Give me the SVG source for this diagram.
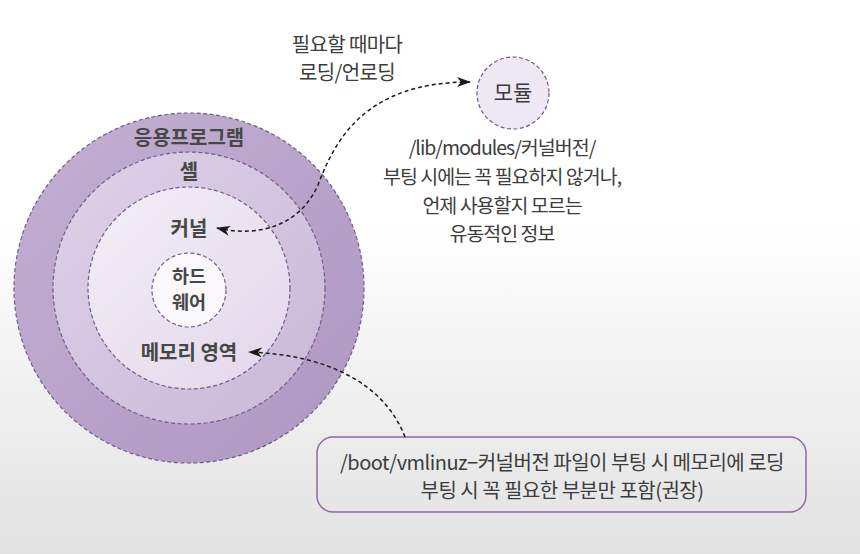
<svg xmlns="http://www.w3.org/2000/svg" width="860" height="554" viewBox="0 0 860 554">
<defs>
<linearGradient id="bg" x1="0" y1="0" x2="0" y2="1">
<stop offset="0" stop-color="#ffffff"/>
<stop offset="0.4" stop-color="#ffffff"/>
<stop offset="1" stop-color="#e2e2e2"/>
</linearGradient>
<linearGradient id="g1" x1="0" y1="0" x2="1" y2="1">
<stop offset="0" stop-color="#c4b0d3"/>
<stop offset="1" stop-color="#ae96c1"/>
</linearGradient>
<linearGradient id="g2" x1="0" y1="0" x2="1" y2="1">
<stop offset="0" stop-color="#ddd1e7"/>
<stop offset="1" stop-color="#c9b8d8"/>
</linearGradient>
<linearGradient id="g3" x1="0" y1="0" x2="1" y2="1">
<stop offset="0" stop-color="#f3eef7"/>
<stop offset="1" stop-color="#e2d7eb"/>
</linearGradient>
<marker id="ah" viewBox="0 0 14 10" refX="13" refY="5" markerWidth="14" markerHeight="10" markerUnits="userSpaceOnUse" orient="auto-start-reverse">
<path d="M0,0 L14,5 L0,10 L4,5 z" fill="#1a1a1a"/>
</marker>
</defs>
<style>
.ring{stroke:#6f5b8c;stroke-width:1.2;stroke-dasharray:4 2.5}
.lbl{font-family:"Noto Sans CJK KR","Noto Sans",sans-serif;font-size:20px;font-weight:bold;fill:#474747;text-anchor:middle;letter-spacing:0px}
.hw{font-size:18.5px}
.txt{font-family:"Noto Sans CJK KR","Noto Sans",sans-serif;font-size:19.5px;fill:#3c3c3c;text-anchor:middle;letter-spacing:-1px}
.top{font-size:20px;letter-spacing:-0.6px}
.box{font-size:20px;letter-spacing:-0.5px}
.con{fill:none;stroke:#1a1a1a;stroke-width:1.5;stroke-dasharray:4 3}
</style>
<rect x="0" y="0" width="860" height="554" fill="url(#bg)"/>
<g id="app">
<circle cx="189" cy="288" r="175" fill="url(#g1)" class="ring"/>
<text class="lbl" x="189" y="145">응용프로그램</text>
</g>
<g id="shell">
<circle cx="189" cy="288" r="136" fill="url(#g2)" class="ring"/>
<text class="lbl" x="189" y="179">셸</text>
</g>
<g id="kernel">
<circle cx="189" cy="288" r="101" fill="url(#g3)" class="ring"/>
<text class="lbl" x="189" y="236">커널</text>
<text class="lbl" x="189" y="360">메모리 영역</text>
</g>
<g id="hardware">
<circle cx="189" cy="290" r="37" fill="#faf8fb" class="ring"/>
<text class="lbl hw" x="189" y="283">하드</text>
<text class="lbl hw" x="189" y="309">웨어</text>
</g>
<g id="module">
<circle cx="513" cy="93" r="36" fill="#eee7f4" class="ring"/>
<text class="txt" x="513" y="100" style="font-size:21px;letter-spacing:0">모듈</text>
</g>
<g id="module-desc">
<text class="txt top" x="347" y="52">필요할 때마다</text>
<text class="txt top" x="347" y="80">로딩/언로딩</text>
<text class="txt" x="502" y="155">/lib/modules/커널버전/</text>
<text class="txt" x="502" y="184">부팅 시에는 꼭 필요하지 않거나,</text>
<text class="txt" x="502" y="213">언제 사용할지 모르는</text>
<text class="txt" x="502" y="241">유동적인 정보</text>
</g>
<g id="boot-box">
<rect x="317" y="437" width="489" height="75" rx="16" fill="none" stroke="#8e6aa0" stroke-width="1.5"/>
<text class="txt box" x="562" y="470">/boot/vmlinuz−커널버전 파일이 부팅 시 메모리에 로딩</text>
<text class="txt box" x="562" y="498">부팅 시 꼭 필요한 부분만 포함(권장)</text>
</g>
<g id="connectors">
<path class="con" d="M 217 228 C 260 238, 300 225, 318 185 C 335 140, 365 82, 470 82" marker-start="url(#ah)" marker-end="url(#ah)"/>
<path class="con" d="M 405 437 C 385 385, 330 355, 249 352" marker-end="url(#ah)"/>
</g>
</svg>
